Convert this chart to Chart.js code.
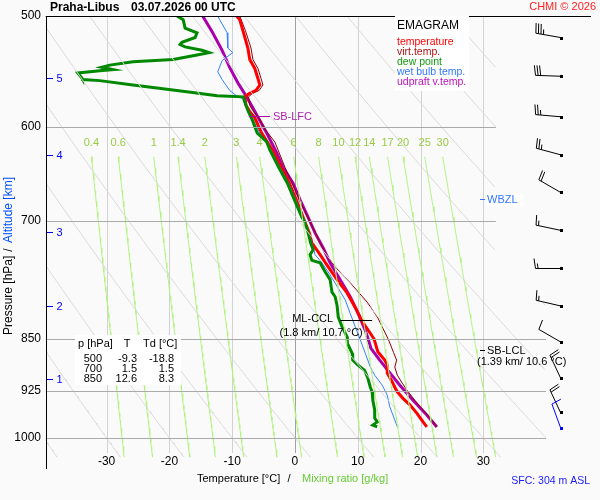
<!DOCTYPE html>
<html>
<head>
<meta charset="utf-8">
<script src="https://cdn.jsdelivr.net/npm/chart.js@4.4.1/dist/chart.umd.min.js"></script>
<style>
  body { margin: 0; background: #fafafa; }
  canvas { display: block; }
</style>
</head>
<body>
<canvas id="emagram" width="600" height="500"></canvas>
<script>
// Praha-Libus 03.07.2026 00 UTC -- pressure in hPa, temperatures in deg C
const tempP = [500, 503, 512, 527, 537, 545, 554, 560, 565, 568, 571, 579, 585, 591, 598, 606, 623, 641, 658, 676, 696, 700, 714, 726, 728, 740, 755, 771, 788, 807, 827, 842, 850, 868, 880, 887, 899, 912, 920, 927, 937, 947, 960, 974, 982];
const tempT = [-9.3, -8.8, -8.3, -7.5, -7.2, -6.4, -5.9, -5.6, -6.2, -7.3, -8.0, -7.8, -7.2, -6.4, -5.9, -5.3, -3.6, -2.2, -0.9, 0.2, 1.3, 1.5, 2.3, 2.7, 2.9, 4.0, 5.3, 6.7, 8.3, 9.6, 10.8, 12.0, 12.6, 13.2, 14.3, 14.7, 14.7, 15.5, 15.9, 16.3, 17.2, 18.3, 19.4, 20.4, 21.0];

const virtP = [500, 512, 527, 537, 545, 554, 560, 565, 568, 571, 579, 585, 591, 598, 602, 615, 641, 676, 700, 714, 726, 740, 755, 775, 800, 821, 835, 851, 869, 880, 890, 902, 914, 924, 940, 955, 971, 982];
const virtT = [-8.8, -7.9, -7.0, -6.7, -5.9, -5.4, -5.1, -5.7, -6.8, -7.4, -7.2, -6.6, -5.8, -5.1, -4.8, -3.2, -1.6, 0.7, 2.3, 3.3, 4.0, 5.0, 6.4, 8.8, 11.5, 13.2, 14.0, 14.9, 15.7, 16.2, 15.9, 16.3, 17.1, 17.8, 19.1, 20.4, 21.8, 22.6];

const dewP = [500, 503, 510, 514, 518, 522, 524, 526, 529, 531, 533, 537, 539, 542, 544, 546, 547, 549, 554, 555, 556, 560, 564, 567, 570, 571, 574, 584, 593, 598, 606, 610, 615, 623, 641, 658, 676, 696, 700, 714, 726, 734, 740, 747, 750, 761, 771, 787, 793, 804, 820, 833, 847, 850, 856, 870, 880, 887, 895, 906, 920, 927, 940, 955, 968, 974, 979, 982];
const dewT = [-18.8, -17.8, -17.5, -15.6, -15.9, -18.0, -18.3, -17.5, -14.8, -13.7, -15.6, -19.4, -25.8, -29.5, -30.8, -29.0, -31.1, -34.6, -33.9, -33.8, -31.1, -25.8, -20.4, -16.3, -12.4, -8.2, -8.1, -7.5, -6.8, -6.5, -6.0, -5.3, -4.5, -4.0, -2.6, -1.2, -0.1, 1.1, 1.5, 2.1, 2.5, 2.9, 2.4, 2.7, 4.0, 4.8, 5.6, 5.9, 6.4, 6.7, 6.9, 7.5, 8.3, 8.3, 8.4, 9.1, 9.2, 10.0, 11.1, 11.6, 12.0, 12.3, 12.4, 12.7, 12.7, 13.1, 12.4, 13.1];

const wetP = [500, 503, 514, 527, 531, 538, 548, 555, 565, 571, 573, 586, 600, 606, 623, 641, 658, 676, 700, 714, 726, 740, 750, 765, 782, 797, 815, 833, 851, 870, 890, 902, 917, 932, 950, 971, 982];
const wetT = [-12.3, -12.0, -10.8, -10.7, -9.9, -11.6, -12.3, -11.6, -10.4, -9.1, -8.1, -7.3, -6.1, -5.6, -3.8, -2.4, -1.0, 0.1, 1.5, 2.2, 2.7, 3.2, 4.3, 5.6, 6.9, 8.0, 8.8, 9.6, 10.4, 11.2, 12.0, 12.7, 13.9, 14.7, 15.1, 15.9, 16.3];

const parcelP = [500, 514, 529, 544, 558, 571, 588, 606, 626, 641, 658, 676, 696, 714, 732, 750, 771, 793, 814, 838, 854, 863, 880, 895, 917, 940, 963, 982];
const parcelT = [-14.7, -13.1, -11.6, -10.4, -9.1, -7.7, -6.1, -4.5, -2.9, -1.9, -0.3, 0.8, 2.1, 3.2, 4.5, 5.6, 7.2, 8.8, 10.0, 11.2, 11.8, 12.1, 13.5, 14.8, 16.7, 18.8, 21.0, 22.6];

// wind: pressure, direction (deg), speed (kt)
const barbP = [518, 552, 590, 628, 668, 711, 757, 805, 854, 906, 959];
const barbDir = [280, 272, 275, 285, 300, 282, 270, 283, 300, 335, 335];
const barbSpd = [35, 30, 25, 25, 20, 15, 15, 15, 10, 20, 20];
const sfcBarb = { p: 983, dir: 340, spd: 10 };

// axes / diagram furniture
const pressureTicks = [500, 600, 700, 850, 925, 1000];
const tempTicks = [-30, -20, -10, 0, 10, 20, 30];
const altKm = [1, 2, 3, 4, 5];
const altP = [908, 805, 713, 628, 554];
const mixRatios = [0.4, 0.6, 1, 1.4, 2, 3, 4, 6, 8, 10, 12, 14, 17, 20, 25, 30];
const adiabatThetas = [233.15, 243.15, 253.15, 263.15, 273.15, 283.15, 293.15, 303.15, 313.15, 323.15, 333.15, 343.15, 353.15, 363.15, 373.15, 383.15];

// table and levels
const tableP = [500, 700, 850];
const tableT = [-9.3, 1.5, 12.6];
const tableTd = [-18.8, 1.5, 8.3];
const lfcP = 589.5, lfcT = -5.9;
const cclP = 824, cclT = 10.7, cclKm = 1.8;
const lclP = 866, lclT = 10.6, lclKm = 1.39;
const wbzlP = 675;
const sfcHeight = 304;

const FONT = 'Liberation Sans, Arial, Helvetica, sans-serif';

function zip(ps, ts) {
  return ps.map((p, i) => ({ x: ts[i], y: p }));
}

// right edge of the drawn diagram (deg C) depends on pressure
function rightLimit(p) {
  return p < 800 ? 32 : 40;
}

function dewFromMix(w, p) {
  const e = w * p / (622 + w);
  const l = Math.log(e / 6.112);
  return 243.5 * l / (17.67 - l);
}

const datasets = [];

adiabatThetas.forEach(th => {
  const pts = [];
  for (let p = 500; p <= 1032; p += 2) {
    const t = th * Math.pow(p / 1000, 0.286) - 273.15;
    pts.push(t <= rightLimit(p) ? { x: t, y: p } : { x: NaN, y: NaN });
  }
  datasets.push({ data: pts, borderColor: '#d8d8d8', borderWidth: 1 });
});

mixRatios.forEach(w => {
  const pts = [];
  for (let p = 630; p <= 1032; p += 6) pts.push({ x: dewFromMix(w, p), y: p });
  datasets.push({ data: pts, borderColor: '#b4f284', borderWidth: 1 });
});

datasets.push(
  { data: zip(dewP, dewT), borderColor: '#008800', borderWidth: 3 },
  { data: zip(wetP, wetT), borderColor: '#3380ff', borderWidth: 1 },
  { data: zip(tempP, tempT), borderColor: '#ff0000', borderWidth: 3 },
  { data: zip(virtP, virtT), borderColor: '#8c0000', borderWidth: 1 },
  { data: zip(parcelP, parcelT), borderColor: '#aa00aa', borderWidth: 3 }
);
datasets.forEach(d => { d.showLine = true; d.fill = false; d.pointRadius = 0; });

function txt(ctx, s, x, y, color, size, align, bold) {
  ctx.fillStyle = color;
  ctx.font = (bold ? 'bold ' : '') + size + 'px ' + FONT;
  ctx.textAlign = align || 'left';
  ctx.textBaseline = 'middle';
  ctx.fillText(s, x, y);
}

function line(ctx, x1, y1, x2, y2, color) {
  ctx.strokeStyle = color;
  ctx.beginPath();
  ctx.moveTo(x1, y1);
  ctx.lineTo(x2, y2);
  ctx.stroke();
}

function drawBarb(ctx, cx, cy, dir, spd, color) {
  const r = dir * Math.PI / 180;
  const ux = Math.sin(r), uy = -Math.cos(r);
  const len = 25;
  const ex = cx + ux * len, ey = cy + uy * len;
  const px = -uy, py = ux;
  ctx.strokeStyle = color;
  ctx.lineWidth = 1;
  ctx.beginPath();
  ctx.moveTo(cx, cy);
  ctx.lineTo(ex, ey);
  let rest = spd, pos = 0;
  while (rest >= 10) {
    const bx = ex - ux * pos, by = ey - uy * pos;
    ctx.moveTo(bx, by);
    ctx.lineTo(bx + px * 10 + ux * 1.5, by + py * 10 + uy * 1.5);
    pos += 2.6; rest -= 10;
  }
  if (rest >= 5) {
    if (pos === 0) pos = 2.6;
    const bx = ex - ux * pos, by = ey - uy * pos;
    ctx.moveTo(bx, by);
    ctx.lineTo(bx + px * 5 + ux * 0.8, by + py * 5 + uy * 0.8);
  }
  ctx.stroke();
  ctx.fillStyle = color;
  ctx.fillRect(Math.round(cx) - 1, Math.round(cy) - 1, 3, 3);
}

const emagramFrame = {
  id: 'emagramFrame',
  beforeDatasetsDraw(chart) {
    const { ctx, chartArea: a, scales: { x, y } } = chart;
    ctx.save();
    ctx.lineWidth = 1;
    tempTicks.forEach(t => {
      const px = Math.round(x.getPixelForValue(t)) + 0.5;
      line(ctx, px, a.top, px, y.getPixelForValue(1025), t === 0 ? '#a0a0a0' : '#d2d2d2');
    });
    ctx.restore();
  },
  afterDatasetsDraw(chart) {
    const { ctx, chartArea: a, scales: { x, y } } = chart;
    ctx.save();
    ctx.lineWidth = 1;

    // isobars
    pressureTicks.slice(1).forEach(p => {
      const py = Math.round(y.getPixelForValue(p)) + 0.5;
      line(ctx, a.left, py, x.getPixelForValue(rightLimit(p)), py, '#aaaaaa');
    });
    // frame
    const top = Math.round(y.getPixelForValue(500)) + 0.5;
    line(ctx, a.left, top, 591, top, '#000000');
    const lx = Math.round(a.left) + 0.5;
    line(ctx, lx, a.top, lx, a.bottom, '#000000');

    // pressure labels
    pressureTicks.forEach(p => txt(ctx, String(p), 41, y.getPixelForValue(p), '#000', 12, 'right'));
    // temperature labels
    tempTicks.forEach(t => txt(ctx, String(t), x.getPixelForValue(t), 462, '#000', 12, 'center'));
    // altitude labels
    altKm.forEach((k, i) => {
      const py = Math.round(y.getPixelForValue(altP[i])) + 0.5;
      line(ctx, 47, py, 53, py, '#0000ff');
      txt(ctx, String(k), 59.5, py, '#0000ff', 11, 'center');
    });
    // mixing ratio labels
    mixRatios.forEach(w => txt(ctx, String(w), x.getPixelForValue(dewFromMix(w, 630)), y.getPixelForValue(616), '#99cc44', 11, 'center'));

    // titles
    txt(ctx, 'Praha-Libus', 50, 7.5, '#000', 12, 'left', true);
    txt(ctx, '03.07.2026 00 UTC', 131, 7.5, '#000', 12, 'left', true);
    txt(ctx, 'CHMI \u00a9 2026', 596, 7, '#ff2020', 11, 'right');
    txt(ctx, 'Temperature [\u00b0C]', 197, 479, '#000', 11, 'left');
    txt(ctx, '/', 289, 479, '#000', 11, 'center');
    txt(ctx, 'Mixing ratio [g/kg]', 302, 479, '#66cc33', 11, 'left');
    txt(ctx, 'SFC: ' + sfcHeight + ' m ASL', 590, 481.5, '#2020ff', 10.5, 'right');

    ctx.save();
    ctx.translate(9, 335);
    ctx.rotate(-Math.PI / 2);
    txt(ctx, 'Pressure [hPa]', 0, 0, '#000', 12, 'left');
    txt(ctx, '/', 85, 0, '#000', 12, 'center');
    txt(ctx, 'Altitude [km]', 92, 0, '#0050ff', 12, 'left');
    ctx.restore();

    // legend
    ctx.fillStyle = '#ffffff';
    ctx.fillRect(395, 16, 74, 75);
    txt(ctx, 'EMAGRAM', 397, 26, '#000', 12, 'left');
    const legendItems = [['temperature', '#ff0000'], ['virt.temp.', '#aa1111'], ['dew point', '#119911'], ['wet bulb temp.', '#3377ff'], ['udpraft v.temp.', '#bb11bb']];
    legendItems.forEach((it, i) => txt(ctx, it[0], 397, 42 + i * 10, it[1], 10.5, 'left'));

    // table
    ctx.fillStyle = '#ffffff';
    ctx.fillRect(75, 335, 106, 50);
    txt(ctx, 'p [hPa]', 78, 343.5, '#000', 11, 'left');
    txt(ctx, 'T', 127, 343.5, '#000', 11, 'center');
    txt(ctx, 'Td [\u00b0C]', 143, 343.5, '#000', 11, 'left');
    tableP.forEach((p, i) => {
      const ry = 358.5 + i * 10.2;
      txt(ctx, String(p), 102, ry, '#000', 11, 'right');
      txt(ctx, tableT[i].toFixed(1), 137, ry, '#000', 11, 'right');
      txt(ctx, tableTd[i].toFixed(1), 174, ry, '#000', 11, 'right');
    });

    // SB-LFC
    const lfy = Math.round(y.getPixelForValue(lfcP)) + 0.5, lfx = x.getPixelForValue(lfcT);
    line(ctx, lfx - 9, lfy, lfx + 12, lfy, '#aa00aa');
    txt(ctx, 'SB-LFC', lfx + 15, lfy, '#aa22aa', 11, 'left');
    // ML-CCL
    const ccy = Math.round(y.getPixelForValue(cclP)) + 0.5, ccx = x.getPixelForValue(cclT);
    line(ctx, ccx - 22, ccy, ccx + 10, ccy, '#000');
    txt(ctx, 'ML-CCL', ccx - 29, ccy - 2, '#000', 11, 'right');
    txt(ctx, '(' + cclKm + ' km/ ' + cclT + ' \u00b0C)', ccx - 41, ccy + 12, '#000', 11, 'center');
    // SB-LCL
    const lcy = Math.round(y.getPixelForValue(lclP)) + 0.5;
    line(ctx, 480, lcy, 485, lcy, '#000');
    txt(ctx, 'SB-LCL', 487, lcy, '#000', 11, 'left');
    txt(ctx, '(' + lclKm + ' km/ ' + lclT + ' \u00b0C)', 477, lcy + 11, '#000', 11, 'left');
    // WBZL
    const wby = Math.round(y.getPixelForValue(wbzlP)) + 0.5;
    ctx.fillStyle = '#ffffff';
    ctx.fillRect(486, wby - 6.5, 37, 13);
    line(ctx, 480, wby, 485, wby, '#3377ff');
    txt(ctx, 'WBZL', 487, wby, '#3377ff', 11, 'left');

    // wind barbs
    barbP.forEach((p, i) => drawBarb(ctx, 560.5, y.getPixelForValue(p), barbDir[i], barbSpd[i], '#000000'));
    drawBarb(ctx, 560.5, y.getPixelForValue(sfcBarb.p), sfcBarb.dir, sfcBarb.spd, '#0000ff');

    ctx.restore();
  }
};

new Chart(document.getElementById('emagram'), {
  type: 'scatter',
  data: { datasets: datasets },
  options: {
    responsive: false,
    animation: false,
    layout: { padding: { left: 45.7, right: 53.9, top: 16, bottom: 31 } },
    plugins: { legend: { display: false }, tooltip: { enabled: false } },
    elements: { line: { tension: 0 } },
    scales: {
      x: { type: 'linear', min: -39.7, max: 40, display: false },
      y: { type: 'logarithmic', min: 500, max: 1052.3, reverse: true, display: false }
    }
  },
  plugins: [emagramFrame]
});
</script>
</body>
</html>
